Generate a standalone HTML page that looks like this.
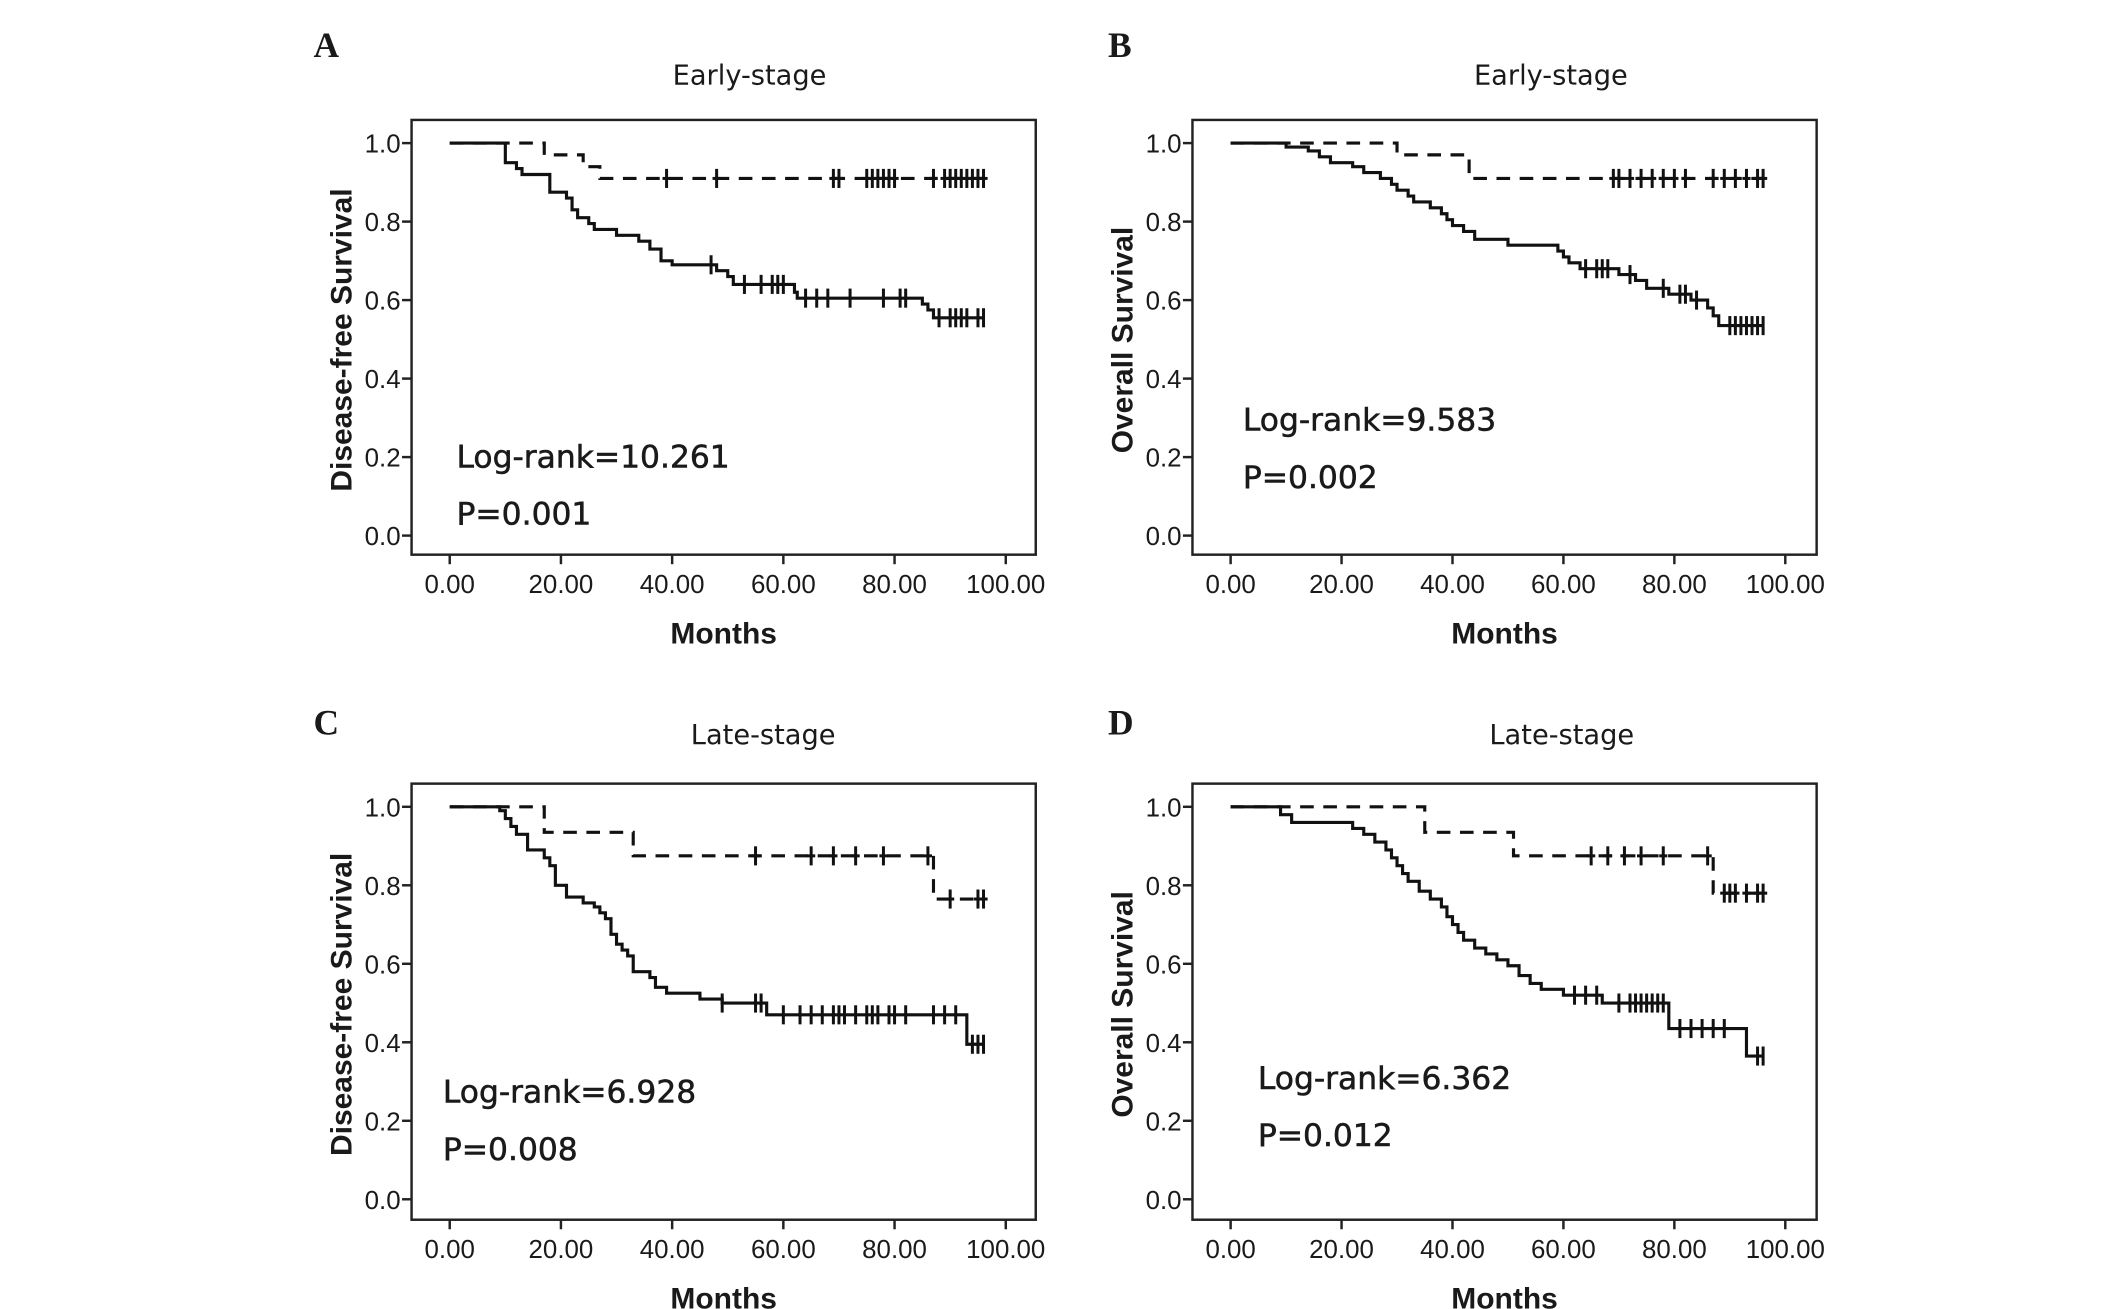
<!DOCTYPE html>
<html><head><meta charset="utf-8"><style>
html,body{margin:0;padding:0;background:#fff;}
svg{display:block;}
text{fill:#1a1a1a;}
</style></head><body>
<svg id="chart" width="2126" height="1309" viewBox="0 0 1560 960.5" xmlns="http://www.w3.org/2000/svg"></svg>
<script>
// ---- data ----
const xTicks = [0,20,40,60,80,100];
const xTickLabels = ["0.00","20.00","40.00","60.00","80.00","100.00"];
const yTicks = [0,0.2,0.4,0.6,0.8,1.0];
const yTickLabels = ["0.0","0.2","0.4","0.6","0.8","1.0"];
const panelLetters = ["A","B","C","D"];
const panelTitles = ["Early-stage","Early-stage","Late-stage","Late-stage"];
const yTitles = ["Disease-free Survival","Overall Survival","Disease-free Survival","Overall Survival"];
const logRanks = ["Log-rank=10.261","Log-rank=9.583","Log-rank=6.928","Log-rank=6.362"];
const pValues = ["P=0.001","P=0.002","P=0.008","P=0.012"];

const aSolidT = [10,12,13,18,21,22,23,25,26,30,34,36,38,40,48,50,51,62,62.5,85,86,87];
const aSolidS = [0.95,0.935,0.92,0.875,0.86,0.83,0.81,0.795,0.78,0.765,0.75,0.73,0.70,0.69,0.675,0.66,0.64,0.62,0.605,0.59,0.575,0.555];
const aSolidC = [47,53,56,58,59,60,64,66,68,72,78,81,82,88,90,91,92,93,95,96];
const aDashT = [17,24,27];
const aDashS = [0.97,0.94,0.91];
const aDashC = [39,48,69,70,75,76,77,78,79,80,87,89,90,91,92,93,94,95,96];

const bSolidT = [10,14,16,18,22,24,27,29,30,32,33,36,38,39,40,42,44,50,59,60,61,63,70,73,75,79,83,86,87,88];
const bSolidS = [0.99,0.98,0.965,0.95,0.94,0.925,0.91,0.895,0.88,0.865,0.85,0.835,0.82,0.805,0.79,0.775,0.755,0.74,0.725,0.71,0.695,0.68,0.665,0.65,0.63,0.615,0.6,0.58,0.56,0.535];
const bSolidC = [64,66,67,68,72,78,81,82,84,90,91,92,93,94,95,96];
const bDashT = [30,43];
const bDashS = [0.97,0.91];
const bDashC = [69,70,72,74,76,78,80,82,87,89,91,93,95,96];

const cSolidT = [9,10,11,12,14,17,18,19,21,24,26,27,28,29,30,31,32,33,36,37,39,45,49,57,93];
const cSolidS = [0.99,0.97,0.95,0.93,0.89,0.87,0.85,0.80,0.77,0.755,0.745,0.73,0.715,0.675,0.65,0.635,0.62,0.58,0.565,0.54,0.525,0.51,0.50,0.47,0.395];
const cSolidC = [49,55,56,60,63,65,67,69,70,71,73,75,76,77,79,80,82,87,89,91,94,95,96];
const cDashT = [17,33,87];
const cDashS = [0.935,0.875,0.765];
const cDashC = [55,65,69,73,78,86,90,95,96];

const dSolidT = [9,11,22,24,26,28,29,30,31,32,34,36,38,39,40,41,42,44,46,48,50,52,54,56,60,67,79,93];
const dSolidS = [0.98,0.96,0.945,0.93,0.91,0.89,0.87,0.85,0.83,0.81,0.785,0.765,0.745,0.72,0.70,0.68,0.66,0.64,0.625,0.61,0.595,0.57,0.55,0.535,0.52,0.50,0.435,0.365];
const dSolidC = [62,64,66,70,72,73,74,75,76,77,78,81,83,85,87,89,95,96];
const dDashT = [35,51,87];
const dDashS = [0.935,0.875,0.78];
const dDashC = [65,68,71,74,78,86,89,90,91,93,95,96];

const series = [
 {solidT:aSolidT,solidS:aSolidS,solidC:aSolidC,dashT:aDashT,dashS:aDashS,dashC:aDashC},
 {solidT:bSolidT,solidS:bSolidS,solidC:bSolidC,dashT:bDashT,dashS:bDashS,dashC:bDashC},
 {solidT:cSolidT,solidS:cSolidS,solidC:cSolidC,dashT:cDashT,dashS:cDashS,dashC:cDashC},
 {solidT:dSolidT,solidS:dSolidS,solidC:dSolidC,dashT:dDashT,dashS:dDashS,dashC:dDashC}
];

// ---- layout ----
const layouts = [
 {bl:302,br:760,bt:88,bb:407,x0:330,x100:738,y1:105,y0:393,tx:550,ty:62,lx:230,ly:44,rx:335,ry:343},
 {bl:875,br:1333,bt:88,bb:407,x0:903,x100:1310,y1:105,y0:393,tx:1138,ty:62,lx:813,ly:44,rx:912,ry:316},
 {bl:302,br:760,bt:575,bb:895,x0:330,x100:738,y1:592,y0:880,tx:560,ty:546,lx:230,ly:541,rx:325,ry:809},
 {bl:875,br:1333,bt:575,bb:895,x0:903,x100:1310,y1:592,y0:880,tx:1146,ty:546,lx:813,ly:541,rx:923,ry:799}
];
const NS="http://www.w3.org/2000/svg";
const svg=document.getElementById('chart');
function mk(tag,attrs,parent){const e=document.createElementNS(NS,tag);for(const k in attrs)e.setAttribute(k,attrs[k]);(parent||svg).appendChild(e);return e;}

function stepPath(T,S,C,sx,sy){
  const last=Math.max(C.length?C[C.length-1]:0,T.length?T[T.length-1]:0);
  let d=`M${sx(0)},${sy(1)}`;
  for(let i=0;i<T.length;i++){d+=` H${sx(T[i])} V${sy(S[i])}`;}
  d+=` H${sx(last)}`;return d;
}
function survAt(T,S,t){let s=1;for(let i=0;i<T.length;i++){if(T[i]<=t)s=S[i];}return s;}

layouts.forEach((L,p)=>{
  const g=mk('g',{});
  
  
  const sx=v=>L.x0+(L.x100-L.x0)*v/100;
  const sy=v=>L.y0+(L.y1-L.y0)*v;
  const letter=mk('text',{x:L.lx,y:L.ly-2,'font-family':'"Liberation Serif",serif','font-weight':'bold','font-size':26},g);
  letter.textContent=panelLetters[p];
  
  const title=mk('text',{x:L.tx,y:L.ty,'text-anchor':'middle','font-family':'"DejaVu Sans",sans-serif','font-size':20},g);
  title.textContent=panelTitles[p];
  
  const box=mk('rect',{x:L.bl,y:L.bt,width:L.br-L.bl,height:L.bb-L.bt,fill:'none',stroke:'#222','stroke-width':1.8},g);
  
  yTicks.forEach((v,i)=>{
    const t=mk('line',{x1:L.bl-7,x2:L.bl,y1:sy(v),y2:sy(v),stroke:'#222','stroke-width':1.8},g);
    
    const tl=mk('text',{x:L.bl-8,y:sy(v)+7,'text-anchor':'end','font-family':'"Liberation Sans",sans-serif','font-size':19},g);
    tl.textContent=yTickLabels[i];
    
  });
  xTicks.forEach((v,i)=>{
    const t=mk('line',{x1:sx(v),x2:sx(v),y1:L.bb,y2:L.bb+7,stroke:'#222','stroke-width':1.8},g);
    
    const tl=mk('text',{x:sx(v),y:L.bb+28,'text-anchor':'middle','font-family':'"Liberation Sans",sans-serif','font-size':19},g);
    tl.textContent=xTickLabels[i];
    
  });
  const xt=mk('text',{x:(L.bl+L.br)/2,y:L.bb+65,'text-anchor':'middle','font-family':'"Liberation Sans",sans-serif','font-weight':'bold','font-size':22},g);
  xt.textContent='Months';
  
  const ym=(L.bt+L.bb)/2+2;
  const yt=mk('text',{x:0,y:0,transform:`translate(${L.bl-44},${ym}) rotate(-90)`,'text-anchor':'middle','font-family':'"Liberation Sans",sans-serif','font-weight':'bold','font-size':22},g);
  yt.textContent=yTitles[p];
  
  const lr=mk('text',{x:L.rx,y:L.ry,'font-family':'"DejaVu Sans",sans-serif','font-size':23,'stroke':'#1a1a1a','stroke-width':0.4},g);
  lr.textContent=logRanks[p];
  
  const pv=mk('text',{x:L.rx,y:L.ry+42,'font-family':'"DejaVu Sans",sans-serif','font-size':23,'stroke':'#1a1a1a','stroke-width':0.4},g);
  pv.textContent=pValues[p];
  

  const S=series[p];
  [['solid',S.solidT,S.solidS,S.solidC,null],['dash',S.dashT,S.dashS,S.dashC,'10,7']].forEach(([nm,T,V,C,da])=>{
    const attrs={d:stepPath(T,V,C,sx,sy),fill:'none',stroke:'#111','stroke-width':2.3};
    if(da)attrs['stroke-dasharray']=da;
    const path=mk('path',attrs,g);
    
    
    C.forEach(c=>{
      const y=sy(survAt(T,V,c));
      const m=mk('line',{x1:sx(c),x2:sx(c),y1:y-7,y2:y+7,stroke:'#111','stroke-width':2.2},g);
      
      
      if(da){const h=mk('line',{x1:sx(c)-3,x2:sx(c)+3,y1:y,y2:y,stroke:'#111','stroke-width':2.2},g);
        
        }
    });
  });
});
</script>
</body></html>
